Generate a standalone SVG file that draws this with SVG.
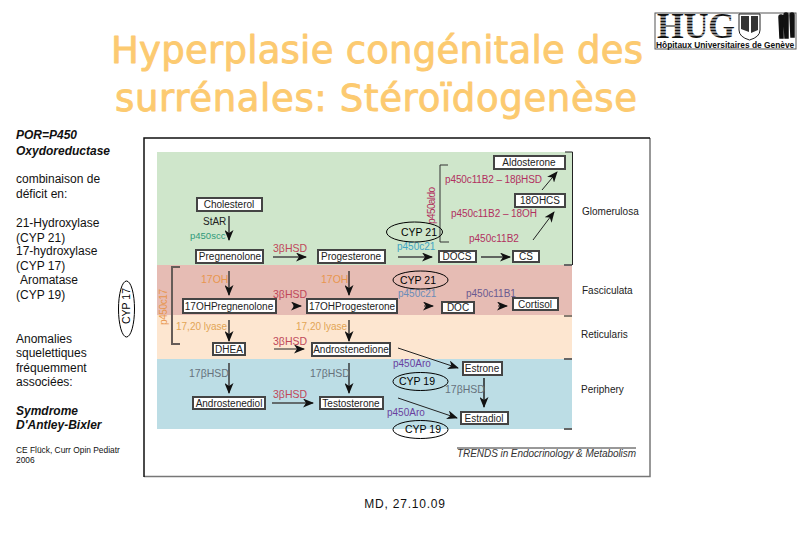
<svg xmlns="http://www.w3.org/2000/svg" width="810" height="540" viewBox="0 0 810 540">
<style>
text{font-family:"Liberation Sans",Arial,sans-serif;fill:#111}
.title{font-family:"DejaVu Sans",Verdana,sans-serif;font-size:37px;fill:#fcca70;stroke:#fcca70;stroke-width:.9;stroke-linejoin:round}
.side{font-size:12px}
.bi{font-size:12px;font-weight:bold;font-style:italic}
.m{font-size:10px;text-anchor:middle;fill:#222}
.b rect{fill:#fff;stroke:#444;stroke-width:2}
.red{font-size:10.5px;fill:#c0485a}
.mag{font-size:10px;fill:#b2305f}
.or{font-size:10.5px;fill:#e8964e}
.ly{font-size:10px;fill:#e2a555}
.gr{font-size:10.5px;fill:#66727c}
.pu{font-size:10px;fill:#6a3f9e}
.cy{font-size:10px;fill:#3fa5c4}
.zone{font-size:10px;fill:#222}
.ell{fill:none;stroke:#000;stroke-width:1}
.cyp{font-size:10.5px;text-anchor:middle;fill:#000}
.a{stroke:#444;stroke-width:1.6;fill:none;marker-end:url(#ah)}
.t{stroke:#222;stroke-width:1;fill:none;marker-end:url(#ah)}
.tick{stroke:#666;stroke-width:2;fill:none}
</style>
<defs><marker id="ah" markerWidth="11" markerHeight="9" refX="10" refY="4.5" orient="auto" markerUnits="userSpaceOnUse"><path d="M0 0L11 4.5L0 9L3 4.5Z" fill="#111"/></marker></defs>
<rect width="810" height="540" fill="#fff"/>
<text class="title" x="111" y="63" textLength="532">Hyperplasie congénitale des</text>
<text class="title" x="115" y="111" textLength="522">surrénales: Stéroïdogenèse</text>

<g id="logo">
<rect x="655" y="13" width="141" height="36" fill="#fff" stroke="#555" stroke-width="1"/>
<text x="657" y="38" font-size="35" textLength="78" lengthAdjust="spacingAndGlyphs" style="font-family:'Liberation Serif',serif;font-weight:bold">HUG</text>
<path d="M656 17h80M656 20h80M656 23h80M656 26h80M656 29h80M656 32h80M656 35h80" stroke="#fff" stroke-width="1" fill="none"/>
<path d="M739 14H760V30Q760 37 749.500 40Q739 37 739 30Z" fill="#fff" stroke="#222"/>
<path d="M741 16H749V32L741 29ZM751 16H758V30L751 33Z" fill="#333"/>
<path d="M779 17a2 2 0 0 1 4 0v21h-3zM784 15a2 2 0 0 1 4 0v23h-3zM790 15a2 2 0 0 1 4 0v22h-3z" fill="#111" stroke="#111" stroke-width="1.500"/>
<text x="656" y="47.500" font-size="8.400" font-weight="bold">Hôpitaux Universitaires de Genève</text>
</g>

<g id="left-text">
<text class="bi" x="16" y="139">POR=P450</text>
<text class="bi" x="16" y="155">Oxydoreductase</text>
<text class="side" x="16" y="183">combinaison de</text>
<text class="side" x="16" y="198">déficit en:</text>
<text class="side" x="16" y="227">21-Hydroxylase</text>
<text class="side" x="16" y="242">(CYP 21)</text>
<text class="side" x="16" y="255">17-hydroxylase</text>
<text class="side" x="16" y="270">(CYP 17)</text>
<text class="side" x="20" y="284">Aromatase</text>
<text class="side" x="16" y="299">(CYP  19)</text>
<text class="side" x="16" y="343">Anomalies</text>
<text class="side" x="16" y="357">squelettiques</text>
<text class="side" x="16" y="372">fréquemment</text>
<text class="side" x="16" y="386">associées:</text>
<text class="bi" x="16" y="415">Symdrome</text>
<text class="bi" x="16" y="429">D'Antley-Bixler</text>
<text x="16" y="453" font-size="8.400">CE Flück, Curr Opin Pediatr</text>
<text x="16" y="463" font-size="8.400">2006</text>
</g>
<g id="frame">
<path d="M144 476.500H650V138" fill="none" stroke="#777" stroke-width="1.500"/>
<path d="M144 477V138H650" fill="none" stroke="#111" stroke-width="1.500"/>
<rect x="157" y="152" width="415" height="113" fill="#cfe6cb"/>
<rect x="157" y="265" width="415" height="50" fill="#e6bcb4"/>
<rect x="157" y="315" width="415" height="44" fill="#fde6d0"/>
<rect x="157" y="359" width="415" height="70" fill="#bcdde5"/>
<path d="M565 152H572.500V265" fill="none" stroke="#222" stroke-width="1"/>
<path class="tick" d="M564 265H572M564 359H572M564 429H572"/>
<path d="M564 316H572" stroke="#111" stroke-width="1"/>
<path d="M180 267H172V344H180" fill="none" stroke="#665c58" stroke-width="2"/>
<path d="M448 165H440V242H449" fill="none" stroke="#333" stroke-width="1"/>
<text x="167" y="325" font-size="10" textLength="36" transform="rotate(-90 167 325)" style="fill:#e8964e">p450c17</text>
<text x="435" y="224" font-size="10" textLength="37" transform="rotate(-90 435 224)" style="fill:#b2305f">p450aldo</text>
<line x1="457" y1="448" x2="636" y2="448" stroke="#333" stroke-width="1"/>
<text x="457" y="457" font-size="10" font-style="italic" textLength="179" style="fill:#333">TRENDS in Endocrinology &amp; Metabolism</text>
</g>
<g id="zones">
<text class="zone" x="582" y="215">Glomerulosa</text>
<text class="zone" x="582" y="294">Fasciculata</text>
<text class="zone" x="581" y="338">Reticularis</text>
<text class="zone" x="581" y="393">Periphery</text>
</g>
<g id="connectors">
<path class="a" d="M229 216V240"/>
<path class="a" d="M273 257H306"/>
<path class="a" d="M229 271V295"/>
<path class="t" d="M349 271V295" style="stroke-width:1.300"/>
<path class="t" d="M293 306H301"/>
<path class="a" d="M229 320V341"/>
<path class="t" d="M349 320V341" style="stroke-width:1.300"/>
<path class="t" d="M274 349H304"/>
<path class="a" d="M229 363V393"/>
<path class="t" d="M349 363V393" style="stroke-width:1.300"/>
<path class="a" d="M272 403H313"/>
<path class="a" d="M398 257H432"/>
<path class="a" d="M481 257H510"/>
<path class="t" d="M424 306H433"/>
<path class="t" d="M498 306H507"/>
<path class="t" d="M533 240L554 212"/>
<path class="t" d="M542 190L557 172"/>
<path class="t" d="M398 348L458 368"/>
<path class="t" d="M398 398L457 418"/>
<path class="t" d="M484 378V407" style="stroke-width:1.500"/>
</g>
<g id="n-cholesterol" class="b"><rect x="197" y="198" width="65" height="13"/><text class="m" x="229" y="208">Cholesterol</text></g>
<g id="n-pregnenolone" class="b"><rect x="196" y="250" width="67" height="13"/><text class="m" x="230" y="260">Pregnenolone</text></g>
<g id="n-progesterone" class="b"><rect x="318" y="250" width="67" height="13"/><text class="m" x="351" y="260">Progesterone</text></g>
<g id="n-17ohpreg" class="b"><rect x="183" y="299" width="93" height="14"/><text class="m" x="229" y="310">17OHPregnenolone</text></g>
<g id="n-17ohprog" class="b"><rect x="307" y="299" width="90" height="14"/><text class="m" x="352" y="310">17OHProgesterone</text></g>
<g id="n-dhea" class="b"><rect x="213" y="343" width="32" height="12"/><text class="m" x="229" y="353">DHEA</text></g>
<g id="n-androstenedione" class="b"><rect x="312" y="343" width="78" height="13"/><text class="m" x="351" y="353">Androstenedione</text></g>
<g id="n-androstenediol" class="b"><rect x="193" y="397" width="72" height="12"/><text class="m" x="229" y="407">Androstenediol</text></g>
<g id="n-testosterone" class="b"><rect x="320" y="397" width="63" height="12"/><text class="m" x="351" y="407">Testosterone</text></g>
<g id="n-aldosterone" class="b"><rect x="494" y="156" width="71" height="13"/><text class="m" x="529" y="166">Aldosterone</text></g>
<g id="n-18ohcs" class="b"><rect x="515" y="194" width="50" height="13"/><text class="m" x="540" y="204">18OHCS</text></g>
<g id="n-docs" class="b"><rect x="439" y="251" width="37" height="11"/><text class="m" x="457" y="260">DOCS</text></g>
<g id="n-cs" class="b"><rect x="513" y="251" width="26" height="11"/><text class="m" x="526" y="260">CS</text></g>
<g id="n-doc" class="b"><rect x="442" y="302" width="32" height="11"/><text class="m" x="458" y="311">DOC</text></g>
<g id="n-cortisol" class="b"><rect x="513" y="298" width="45" height="12"/><text class="m" x="535" y="308">Cortisol</text></g>
<g id="n-estrone" class="b"><rect x="463" y="362" width="39" height="13"/><text class="m" x="482" y="372">Estrone</text></g>
<g id="n-estradiol" class="b"><rect x="461" y="412" width="47" height="12"/><text class="m" x="484" y="422">Estradiol</text></g>
<g id="labels">
<text x="203" y="225" font-size="10" style="fill:#222">StAR</text>
<text x="190" y="239" font-size="9.500" style="fill:#2f9a7a">p450scc</text>
<text class="red" x="273" y="252">3βHSD</text>
<text class="red" x="273" y="298">3βHSD</text>
<text class="red" x="273" y="345">3βHSD</text>
<text class="red" x="273" y="398">3βHSD</text>
<text class="or" x="201" y="283">17OH</text>
<text class="or" x="321" y="283">17OH</text>
<text class="ly" x="176" y="330">17,20 lyase</text>
<text class="ly" x="296" y="330">17,20 lyase</text>
<text class="gr" x="189" y="377">17βHSD</text>
<text class="gr" x="310" y="377">17βHSD</text>
<text class="gr" x="445" y="393">17βHSD</text>
<text class="mag" x="445" y="183" textLength="97">p450c11B2 – 18βHSD</text>
<text class="mag" x="451" y="217" textLength="86">p450c11B2 – 18OH</text>
<text class="mag" x="469" y="242">p450c11B2</text>
<text class="cy" x="397" y="250">p450c21</text>
<text x="398" y="297" font-size="10" style="fill:#6a8cb8">p450c21</text>
<text x="466" y="297" font-size="10" style="fill:#6a5a90">p450c11B1</text>
<text class="pu" x="393" y="367">p450Aro</text>
<text class="pu" x="387" y="416">p450Aro</text>
</g>
<g id="ellipses">
<ellipse class="ell" cx="414.500" cy="232" rx="28" ry="10"/><text class="cyp" x="419" y="236">CYP 21</text>
<ellipse class="ell" cx="420.500" cy="280" rx="27.500" ry="9"/><text class="cyp" x="418" y="284">CYP 21</text>
<ellipse class="ell" cx="420.500" cy="381.500" rx="27.500" ry="9"/><text class="cyp" x="417" y="385">CYP 19</text>
<ellipse class="ell" cx="420.500" cy="429.500" rx="27.500" ry="9"/><text class="cyp" x="423" y="433">CYP 19</text>
<ellipse class="ell" cx="126.500" cy="309" rx="8" ry="28"/><text class="cyp" x="0" y="0" transform="translate(130 306) rotate(-90)">CYP 17</text>
</g>
<text x="405" y="508" font-size="12" text-anchor="middle" style="letter-spacing:.8px">MD, 27.10.09</text>
</svg>
